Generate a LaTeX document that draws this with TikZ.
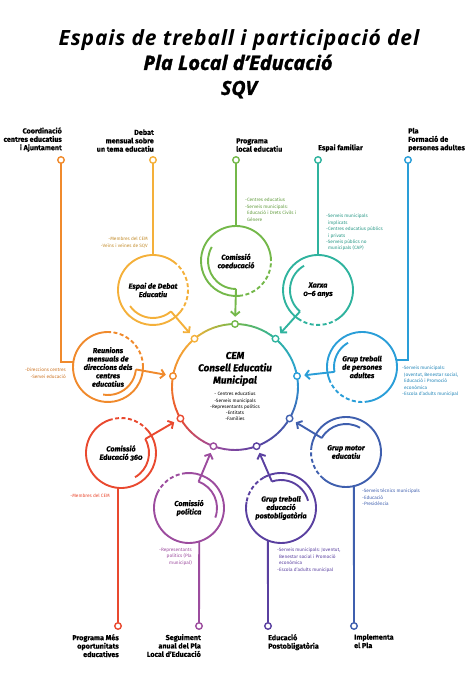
\documentclass[tikz,border=0pt]{standalone}
\usepackage{fontspec}
\setmainfont{Fira Sans}
\newfontfamily\satfont{Fira Sans}[Numbers=OldStyle, FakeBold=0.7]
\newfontfamily\titlefont{Open Sans}[LetterSpace=4]
\newfontfamily\heavyfont{Open Sans}[FakeBold=1.6]
\newfontfamily\labfont{Fira Sans}[FakeBold=0.4]
\usetikzlibrary{arrows.meta,calc}

\definecolor{corange}{HTML}{F08A2C}
\definecolor{cgold}{HTML}{F4B03A}
\definecolor{cgreen}{HTML}{74B84A}
\definecolor{cteal}{HTML}{2FB39E}
\definecolor{cblue}{HTML}{2A9ED8}
\definecolor{cindigo}{HTML}{3F5FAE}
\definecolor{cviolet}{HTML}{5A40A0}
\definecolor{cpurple}{HTML}{9C4C9E}
\definecolor{cred}{HTML}{E9492F}

\begin{document}
\begin{tikzpicture}[x=1pt,y=1pt,
  sat/.style={circle, minimum size=70pt, inner sep=0pt, outer sep=0pt, align=center,
    font=\satfont\fontsize{7.3}{8.4}\selectfont\bfseries\itshape},
  ln/.style={line width=1.9pt},
  dotn/.style={circle, draw, fill=white, line width=1.4pt, minimum size=6.5pt, inner sep=0pt, outer sep=0pt},
  toplab/.style={font=\labfont\fontsize{7.2}{8.4}\selectfont\bfseries, inner sep=0pt},
  small/.style={font=\fontsize{4.7}{6.4}\selectfont, inner sep=0pt},
  arr/.style={line width=1.9pt, -{Straight Barb[length=4pt,width=9pt]}, shorten >=4pt},
  dashy/.style={dash pattern=on 4pt off 2.5pt},
]
\useasboundingbox (0,0) rectangle (467,674);

% title
\node[font=\titlefont\fontsize{21}{24}\selectfont\bfseries\itshape, anchor=base, inner sep=0pt] (title1) at (239,628) {Espais de treball i participació del};
\node[font=\heavyfont\fontsize{20}{22}\selectfont\bfseries\itshape, anchor=base, inner sep=0pt] (title2) at (238,604) {Pla Local d’Educació};
\node[font=\heavyfont\fontsize{19.5}{22}\selectfont\bfseries\itshape, anchor=base, inner sep=0pt] (title3) at (239,579) {SQV};

% central circle
\coordinate (cemc) at (235,287);
\foreach \ca/\cb/\a in {cblue/cteal/10, cteal/cgreen/50, cgreen/cgold/90, cgold/corange/130, corange/cred/170, cred/cpurple/210, cpurple/cviolet/250, cviolet/cindigo/290, cindigo/cblue/330} {
  \foreach \k in {0,...,7} {
    \pgfmathtruncatemacro\p{\k*12.5+6}
    \pgfmathsetmacro\s{\a+\k*5}
    \draw[line width=1.9pt, draw=\cb!\p!\ca] ($(cemc)+(\s:63)$) arc[start angle=\s, end angle=\s+5.4, radius=63];
  }
}
\foreach \ang/\cc in {10/cblue, 50/cteal, 90/cgreen, 130/cgold, 170/corange, 210/cred, 250/cpurple, 290/cviolet, 330/cindigo} {
  \node[dotn, draw=\cc] (d\ang) at ($(cemc)+(\ang:63)$) {};
}
\node[font=\satfont\fontsize{10}{12.3}\selectfont\bfseries\itshape, align=center, anchor=south, inner sep=0pt] (cemt) at (235,288) {CEM\\Consell Educatiu\\Municipal};
\node[small, align=center, anchor=north, font=\fontsize{4.7}{6.2}\selectfont] (ceml) at (235,282) {- Centres educatius\\-Serveis municipals\\-Representants polítics\\-Entitats\\-Famílies};

% satellites
\node[sat] (deb) at (153,384) {Espai de Debat\\Educatiu};
\node[sat] (coe) at (236,413) {Comissió\\coeducació};
\node[sat] (xar) at (318,384) {Xarxa\\0–6 anys};
\node[sat] (reu) at (108,307) {Reunions\\mensuals de\\direccions dels\\centres\\educatius};
\node[sat] (adu) at (362,307) {Grup treball\\de persones\\adultes};
\node[sat] (c36) at (121,221) {Comissió\\Educació 360};
\node[sat] (pol) at (189,166) {Comissió\\política};
\node[sat] (pos) at (281,166) {Grup treball\\educació\\postobligatòria};
\node[sat] (mot) at (346,222) {Grup motor\\educatiu};

\foreach \nm/\cc/\sa/\sb/\ia/\ib/\ie/\dd in {
  deb/cgold/48/322/215/310/310/d130,
  coe/cgreen/0/275/150/270/270/d90,
  xar/cteal/300/595/120/230/230/d50,
  reu/corange/85/360/260/355/355/d170,
  adu/cblue/280/560/120/190/190/d10,
  c36/cred/110/400/-60/30/30/d210,
  pol/cpurple/150/455/-20/70/70/d250,
  pos/cviolet/170/480/15/109/109/d290,
  mot/cindigo/230/530/60/150/150/d330} {
  \draw[ln, draw=\cc] ($(\nm.center)+(\sa:35)$) arc[start angle=\sa, end angle=\sb, radius=35];
  \draw[ln, draw=\cc, dashy] ($(\nm.center)+(\sb:35)$) arc[start angle=\sb, end angle=\sa+360, radius=35];
  \draw[ln, draw=\cc] ($(\nm.center)+(\ia:28)$) arc[start angle=\ia, end angle=\ib, radius=28];
  \draw[arr, draw=\cc] ($(\nm.center)+(\ie:28)$) -- (\dd);
}

% top dots and lines
\node[dotn, draw=corange] (t1) at (61,514) {};
\node[dotn, draw=cgold] (t2) at (153,514) {};
\node[dotn, draw=cgreen] (t3) at (236,514) {};
\node[dotn, draw=cteal] (t4) at (318,514) {};
\node[dotn, draw=cblue] (t5) at (408,514) {};
\draw[ln, draw=corange] (t1) |- (reu.172);
\draw[ln, draw=cgold] (t2) -- (deb.90);
\draw[ln, draw=cgreen] (t3) -- (coe.90);
\draw[ln, draw=cteal] (t4) -- (xar.90);
\draw[ln, draw=cblue] (t5) |- (adu.12);

% bottom dots and lines
\node[dotn, draw=cred] (b1) at (118,48) {};
\node[dotn, draw=cpurple] (b2) at (199,48) {};
\node[dotn, draw=cviolet] (b3) at (268,48) {};
\node[dotn, draw=cindigo] (b4) at (354,48) {};
\draw[ln, draw=cred] (c36.265) -- (b1);
\draw[ln, draw=cpurple] (pol.287) -- (b2);
\draw[ln, draw=cviolet] (pos.248) -- (b3);
\draw[ln, draw=cindigo] (mot.283) -- (b4);

% top labels
\node[toplab, align=right, anchor=south east] (L1) at (62,522) {Coordinació\\centres educatius\\i Ajuntament};
\node[toplab, align=right, anchor=south east] (L2) at (154,522) {Debat\\mensual sobre\\un tema educatiu};
\node[toplab, align=left, anchor=south west] (L3) at (236,522) {Programa\\local educatiu};
\node[toplab, align=left, anchor=south west] (L4) at (318,522) {Espai familiar};
\node[toplab, align=left, anchor=south west] (L5) at (408,522) {Pla\\Formació de\\persones adultes};

% bottom labels
\node[toplab, align=right, anchor=north east] (B1) at (119,40) {Programa Més\\oportunitats\\educatives};
\node[toplab, align=right, anchor=north east] (B2) at (201,40) {Seguiment\\anual del Pla\\Local d’Educació};
\node[toplab, align=left, anchor=north west] (B3) at (268,40) {Educació\\Postobligatòria};
\node[toplab, align=left, anchor=north west] (B4) at (354,40) {Implementa\\el Pla};

% small lists
\node[small, text=cgold!80!black, align=right, anchor=north east] (s1) at (148,437) {-Membres del CEM\\-Veïns i veïnes de SQV};
\node[small, text=cgreen!85!black, align=left, anchor=north west] (s2) at (245,476) {-Centres educatius\\-Serveis municipals:\\\phantom{-}Educació i Drets Civils i\\\phantom{-}Gènere};
\node[small, text=cteal!85!black, align=left, anchor=north west] (s3) at (326,460) {-Serveis municipals\\\phantom{-}implicats\\-Centres educatius públics\\\phantom{-}i privats\\-Serveis públics no\\\phantom{-}municipals (CAP)};
\node[small, text=corange!85!black, align=right, anchor=north east] (s4) at (66,306) {-Direccions centres\\-Servei educació};
\node[small, text=cblue!85!black, align=left, anchor=north west] (s5) at (402,308) {-Serveis municipals:\\\phantom{-}Joventut, Benestar social,\\\phantom{-}Educació i Promoció\\\phantom{-}econòmica\\-Escola d’adults municipal};
\node[small, text=cred, align=right, anchor=north east] (s6) at (110,180) {-Membres del CEM};
\node[small, text=cpurple, align=right, anchor=north east] (s7) at (192,126) {-Representants\\polítics (Pla\\municipal)};
\node[small, text=cviolet, align=left, anchor=north west] (s8) at (277,126) {-Serveis municipals: Joventut,\\\phantom{-}Benestar social i Promoció\\\phantom{-}econòmica\\-Escola d’adults municipal};
\node[small, text=cindigo, align=left, anchor=north west] (s9) at (362,185) {-Serveis tècnics municipals\\-Educació\\-Presidència};
\end{tikzpicture}
\end{document}
